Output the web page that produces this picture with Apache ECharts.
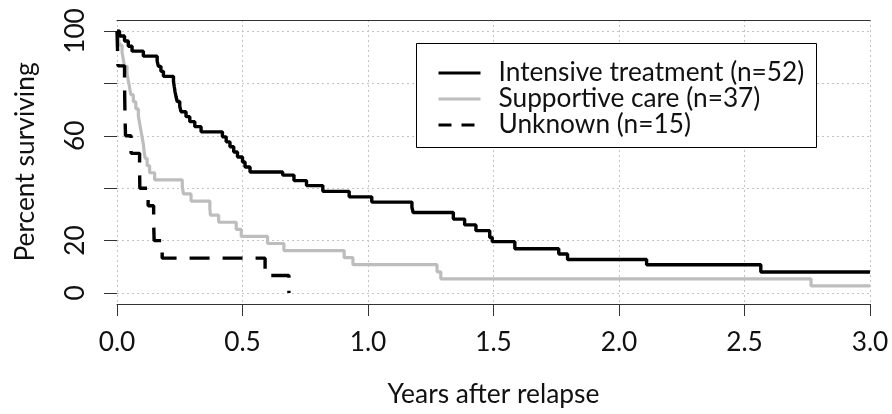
<!DOCTYPE html>
<html>
<head>
<meta charset="utf-8">
<script src="https://cdn.jsdelivr.net/npm/echarts@6/dist/echarts.min.js"></script>
<style>
  html, body { margin: 0; padding: 0; background: #fff; }
  #chart { width: 892px; height: 414px; }
</style>
</head>
<body>
<div id="chart"></div>
<script>
// ---- Data ----
const seriesNames = ['Intensive treatment (n=52)', 'Supportive care (n=37)', 'Unknown (n=15)'];

const intensiveYears = [0, 0.01, 0.03, 0.045, 0.06, 0.105, 0.16, 0.165, 0.175, 0.185, 0.225, 0.228, 0.231, 0.235, 0.24, 0.25, 0.255, 0.275, 0.29, 0.31, 0.335, 0.42, 0.435, 0.45, 0.465, 0.48, 0.5, 0.51, 0.53, 0.66, 0.705, 0.755, 0.82, 0.925, 1.015, 1.175, 1.18, 1.34, 1.385, 1.43, 1.485, 1.495, 1.585, 1.76, 1.795, 2.11, 2.565, 3.0];
const intensivePct   = [100, 98.1, 96.2, 94.2, 92.3, 90.4, 88.5, 86.5, 84.6, 82.7, 80.8, 78.8, 76.9, 75.0, 73.1, 71.2, 69.2, 67.3, 65.4, 63.5, 61.5, 59.6, 57.7, 55.8, 53.8, 51.9, 50.0, 48.1, 46.2, 45.0, 42.9, 41.0, 38.8, 36.7, 34.7, 32.7, 30.7, 28.2, 26.0, 23.8, 21.2, 19.6, 16.9, 14.9, 12.8, 10.8, 8.0, 8.0];

const supportiveYears = [0, 0.005, 0.01, 0.02, 0.025, 0.03, 0.04, 0.045, 0.05, 0.055, 0.065, 0.075, 0.085, 0.09, 0.095, 0.1, 0.105, 0.108, 0.112, 0.12, 0.13, 0.15, 0.26, 0.265, 0.295, 0.37, 0.372, 0.405, 0.475, 0.495, 0.6, 0.665, 0.905, 0.94, 1.275, 1.29, 2.765, 3.0];
const supportivePct   = [100, 97.3, 94.6, 91.9, 89.2, 86.5, 83.8, 81.1, 78.4, 75.7, 73.0, 70.3, 67.6, 64.9, 62.2, 59.5, 56.8, 54.1, 51.4, 48.6, 45.9, 43.2, 40.5, 37.8, 35.1, 32.4, 29.7, 27.0, 24.3, 21.6, 18.9, 16.2, 13.5, 10.8, 8.1, 5.4, 2.7, 2.7];

const unknownYears = [0, 0.002, 0.004, 0.03, 0.031, 0.032, 0.034, 0.056, 0.09, 0.091, 0.124, 0.146, 0.148, 0.18, 0.59, 0.685];
const unknownPct   = [100, 93.3, 86.7, 80, 73.3, 66.7, 60, 53.3, 46.7, 40, 33.3, 26.7, 20, 13.3, 6.7, 0];

const xTickValues = [0, 0.5, 1.0, 1.5, 2.0, 2.5, 3.0];
const yLabelsShown = [0, 20, 60, 100];

// ---- Fonts: pick a size so Lato matches the reference's text widths ----
const FONT = 'Lato';
function fitSize(text, target) {
  const c = document.createElement('canvas').getContext('2d');
  c.font = '100px ' + FONT;
  return 100 * target / c.measureText(text).width;
}
const fsLegend = fitSize('Intensive treatment (n=52)', 306);
const fsTitle = fitSize('Years after relapse', 212);
const fsTick = fsLegend;

const zip = (xs, ys) => xs.map((x, i) => [x, ys[i]]);

const GRIDCOL = '#c4c4c4';
const AXCOL = '#333';
const TXT = '#111';
const HIDDEN_SYMBOL = { color: 'rgba(0,0,0,0)', borderWidth: 0, opacity: 0 };

const chart = echarts.init(document.getElementById('chart'), null, { renderer: 'canvas' });
chart.setOption({
  animation: false,
  backgroundColor: '#fff',
  textStyle: { fontFamily: FONT },
  grid: [
    { left: 117, right: 22, top: 31, bottom: 121 },
    { left: 117, right: 22, top: 20, bottom: 110 }
  ],
  xAxis: [
    { gridIndex: 0, type: 'value', min: 0, max: 3, show: false },
    {
      gridIndex: 1, type: 'value', min: 0, max: 3, interval: 0.5, position: 'bottom',
      axisLine: { show: true, lineStyle: { color: AXCOL, width: 1 } },
      axisTick: { show: true, length: 12, lineStyle: { color: AXCOL, width: 1 } },
      axisLabel: { margin: 26, color: TXT, fontSize: fsTick, fontFamily: FONT,
                   formatter: v => xTickValues.includes(v) ? v.toFixed(1) : '' },
      splitLine: { show: true, lineStyle: { color: GRIDCOL, type: [2, 3], width: 1 } },
      name: 'Years after relapse', nameLocation: 'middle', nameGap: 77,
      nameTextStyle: { color: TXT, fontSize: fsTitle, fontFamily: FONT }
    },
    {
      gridIndex: 1, type: 'value', min: 0, max: 3, position: 'top',
      axisLine: { show: true, lineStyle: { color: AXCOL, width: 1 } },
      axisTick: { show: false }, axisLabel: { show: false }, splitLine: { show: false }
    }
  ],
  yAxis: [
    {
      gridIndex: 0, type: 'value', min: 0, max: 100, interval: 20,
      axisLine: { show: false },
      axisTick: { show: true, length: 13, lineStyle: { color: AXCOL, width: 1 } },
      axisLabel: { rotate: 90, margin: 28, color: TXT, fontSize: fsTick, fontFamily: FONT,
                   formatter: v => yLabelsShown.includes(v) ? String(v) : '' },
      splitLine: { show: true, lineStyle: { color: GRIDCOL, type: [2, 3], width: 1 } },
      name: 'Percent surviving', nameLocation: 'middle', nameGap: 79,
      nameTextStyle: { color: TXT, fontSize: fsTitle, fontFamily: FONT }
    },
    { gridIndex: 1, type: 'value', min: 0, max: 1, show: false }
  ],
  graphic: [{
    type: 'rect', z: 3, silent: true,
    shape: { x: 416.5, y: 43.5, width: 400, height: 104 },
    style: { fill: '#fff', stroke: '#000', lineWidth: 1 }
  }],
  legend: {
    z: 5, left: 437, top: 60, orient: 'vertical', padding: 0,
    itemWidth: 42, itemHeight: 25, itemGap: 0,
    selectedMode: false,
    itemStyle: HIDDEN_SYMBOL,
    lineStyle: { width: 3 },
    textStyle: { fontSize: fsLegend, fontFamily: FONT, color: TXT, padding: [0, 0, 0, 13] },
    data: [
      { name: seriesNames[0], itemStyle: HIDDEN_SYMBOL },
      { name: seriesNames[1], itemStyle: HIDDEN_SYMBOL },
      { name: seriesNames[2], itemStyle: HIDDEN_SYMBOL, lineStyle: { type: [13, 10], width: 3 } }
    ]
  },
  series: [
    {
      name: seriesNames[1], type: 'line', step: 'end', symbol: 'none',
      xAxisIndex: 0, yAxisIndex: 0, z: 2,
      lineStyle: { color: '#bdbdbd', width: 3.2 },
      itemStyle: { color: '#bdbdbd' },
      data: zip(supportiveYears, supportivePct)
    },
    {
      name: seriesNames[0], type: 'line', step: 'end', symbol: 'none',
      xAxisIndex: 0, yAxisIndex: 0, z: 3,
      lineStyle: { color: '#000', width: 3.4 },
      itemStyle: { color: '#000' },
      data: zip(intensiveYears, intensivePct)
    },
    {
      name: seriesNames[2], type: 'line', step: 'end', symbol: 'none',
      xAxisIndex: 0, yAxisIndex: 0, z: 3,
      lineStyle: { color: '#000', width: 3.4, type: [20, 13] },
      itemStyle: { color: '#000' },
      data: zip(unknownYears, unknownPct)
    }
  ]
});
</script>
</body>
</html>
